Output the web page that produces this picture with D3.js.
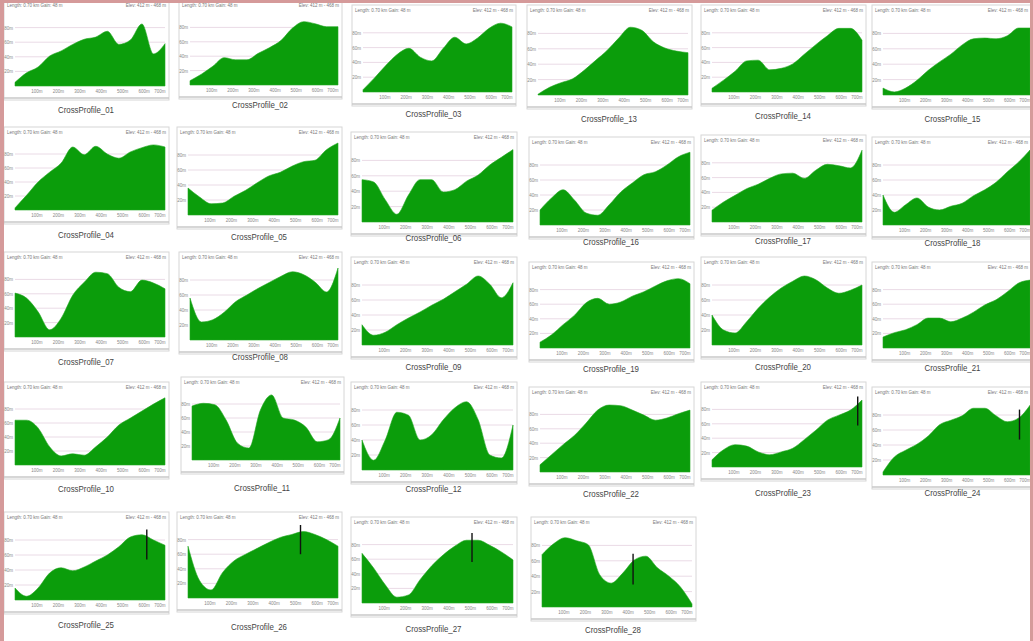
<!DOCTYPE html>
<html>
<head>
<meta charset="utf-8">
<script src="https://cdn.jsdelivr.net/npm/d3@7"></script>
<style>
  body { margin: 0; background: #fff; }
  svg { display: block; font-family: "Liberation Sans", Arial, sans-serif; }
</style>
</head>
<body>
<svg id="chart" width="1033" height="641"></svg>
<script>
// panel names, in the order they appear (row by row)
const names = [
  'CrossProfile_01', 'CrossProfile_02', 'CrossProfile_03', 'CrossProfile_13', 'CrossProfile_14', 'CrossProfile_15',
  'CrossProfile_04', 'CrossProfile_05', 'CrossProfile_06', 'CrossProfile_16', 'CrossProfile_17', 'CrossProfile_18',
  'CrossProfile_07', 'CrossProfile_08', 'CrossProfile_09', 'CrossProfile_19', 'CrossProfile_20', 'CrossProfile_21',
  'CrossProfile_10', 'CrossProfile_11', 'CrossProfile_12', 'CrossProfile_22', 'CrossProfile_23', 'CrossProfile_24',
  'CrossProfile_25', 'CrossProfile_26', 'CrossProfile_27', 'CrossProfile_28'
];

// relative elevation (0-100) at evenly spaced stations along each profile
const cp01 = [5, 18, 26, 41, 48, 57, 64, 67, 75, 57, 63, 85, 44, 58];
const cp02 = [6, 15, 26, 38, 35, 35, 44, 52, 62, 79, 88, 85, 81, 81];
const cp03 = [3, 19, 36, 51, 59, 47, 42, 59, 74, 65, 73, 86, 93, 88];
const cp13 = [1, 10, 16, 21, 32, 45, 58, 74, 88, 84, 69, 61, 57, 55];
const cp14 = [5, 16, 28, 42, 43, 30, 32, 38, 51, 64, 76, 86, 86, 70];
const cp15 = [9, 4, 9, 19, 32, 43, 53, 65, 73, 74, 73, 77, 87, 87];
const cp04 = [3, 21, 40, 54, 67, 90, 79, 91, 80, 74, 83, 89, 93, 90];
const cp05 = [36, 24, 15, 16, 25, 33, 43, 52, 57, 65, 71, 73, 87, 96];
const cp06 = [55, 52, 29, 10, 35, 55, 55, 39, 42, 53, 61, 74, 84, 94];
const cp16 = [20, 36, 47, 33, 16, 13, 27, 44, 56, 67, 71, 80, 91, 97];
const cp17 = [16, 27, 36, 45, 51, 59, 65, 66, 59, 70, 78, 76, 73, 97];
const cp18 = [40, 17, 27, 36, 24, 20, 25, 29, 39, 47, 57, 71, 84, 100];
const cp07 = [61, 54, 35, 10, 26, 58, 76, 90, 88, 69, 63, 79, 75, 67];
const cp08 = [56, 24, 27, 37, 51, 60, 69, 77, 85, 91, 87, 77, 64, 96];
const cp09 = [27, 13, 17, 27, 36, 44, 53, 61, 71, 81, 92, 81, 63, 83];
const cp19 = [8, 18, 32, 45, 62, 68, 60, 63, 71, 77, 85, 92, 95, 88];
const cp20 = [40, 20, 16, 31, 49, 64, 76, 85, 92, 87, 76, 69, 73, 80];
const cp21 = [15, 21, 25, 32, 41, 41, 36, 41, 49, 59, 66, 77, 89, 93];
const cp10 = [64, 64, 53, 26, 13, 16, 14, 26, 40, 57, 67, 77, 87, 96];
const cp11 = [77, 81, 79, 57, 24, 17, 71, 93, 60, 57, 47, 26, 29, 60];
const cp12 = [40, 13, 40, 77, 73, 40, 47, 67, 83, 91, 67, 20, 16, 60];
const cp22 = [10, 24, 38, 51, 68, 86, 93, 92, 86, 79, 72, 75, 81, 86];
const cp23 = [10, 24, 31, 29, 21, 17, 21, 26, 38, 51, 65, 72, 79, 93];
const cp24 = [4, 24, 33, 41, 52, 67, 73, 79, 89, 89, 79, 71, 76, 93];
const cp25 = [16, 5, 16, 36, 43, 39, 44, 52, 60, 71, 84, 87, 80, 73];
const cp26 = [71, 24, 11, 35, 51, 60, 68, 76, 83, 87, 91, 87, 80, 71];
const cp27 = [68, 48, 25, 8, 11, 32, 51, 66, 78, 86, 86, 79, 70, 59];
const cp28 = [68, 82, 90, 86, 81, 42, 31, 44, 61, 66, 51, 40, 26, 4];

const profiles = [
  cp01, cp02, cp03, cp13, cp14, cp15,
  cp04, cp05, cp06, cp16, cp17, cp18,
  cp07, cp08, cp09, cp19, cp20, cp21,
  cp10, cp11, cp12, cp22, cp23, cp24,
  cp25, cp26, cp27, cp28
];

// station marker along the profile (distance, m)
const markerNames = ['CrossProfile_23', 'CrossProfile_24', 'CrossProfile_25', 'CrossProfile_26', 'CrossProfile_27', 'CrossProfile_28'];
const markerDist = [680, 650, 615, 525, 510, 425];

const distTicks = [100, 200, 300, 400, 500, 600, 700];
const elevTicks = [20, 40, 60, 80];

// plot box of each panel in the collage: [left, right, top, baseline, caption y]
const boxes = [
  [15, 165, 13, 86, 113], [190, 338, 13, 85, 108], [363, 512, 18, 92, 117], [538, 688, 18, 95, 122], [712, 862, 18, 92, 119], [883, 1030, 18, 95, 122],
  [15, 165, 140, 210, 238], [188, 338, 140, 215, 240], [362, 513, 145, 222, 241], [540, 690, 150, 225, 245], [712, 862, 148, 222, 244], [883, 1030, 150, 225, 246],
  [15, 165, 265, 337, 365], [190, 338, 265, 340, 360], [362, 513, 270, 345, 370], [540, 690, 275, 348, 372], [712, 862, 270, 345, 370], [883, 1030, 275, 348, 371],
  [15, 165, 395, 465, 492], [192, 340, 390, 460, 491], [362, 513, 395, 470, 492], [540, 690, 400, 472, 497], [712, 862, 395, 467, 496], [883, 1030, 400, 475, 496],
  [15, 165, 525, 600, 628], [188, 338, 525, 598, 630], [362, 513, 530, 603, 632], [542, 692, 530, 607, 633]
];

const svg = d3.select('#chart');

function panel(values, name, box) {
    const [L, R, T, B, cy] = box;
    const x = d3.scaleLinear().domain([0, 700]).range([L, R]);
    const y = d3.scaleLinear().domain([0, 100]).range([B, T]);
    const pts = values.map((v, i) => ({ d: i * 700 / (values.length - 1), v: v }));
    const g = svg.append('g');
    const rightEdge = Math.min(R + 1, 1028);

    // chart frame
    g.append('rect')
        .attr('x', L - 11).attr('y', T - 13)
        .attr('width', R - L + 15).attr('height', B - T + 27)
        .attr('fill', '#fff').attr('stroke', '#d6d6d6');
    g.append('line')
        .attr('x1', L - 11).attr('x2', R + 4)
        .attr('y1', B + 12).attr('y2', B + 12)
        .attr('stroke', '#c8c8c8').attr('stroke-width', 1.5);

    g.selectAll('line.grid')
        .data(elevTicks)
        .enter()
        .append('line')
            .attr('class', 'grid')
            .attr('x1', L).attr('x2', R)
            .attr('y1', d => y(d)).attr('y2', d => y(d))
            .attr('stroke', '#eadbe6');

    const area = d3.area()
        .x(d => x(d.d))
        .y0(y(0))
        .y1(d => y(d.v))
        .curve(d3.curveMonotoneX);
    g.append('path')
        .datum(pts)
        .attr('d', area)
        .attr('fill', '#0b9d0b')
        .attr('stroke', '#22a822')
        .attr('stroke-width', 0.6);

    g.selectAll('text.ylab')
        .data(elevTicks)
        .enter()
        .append('text')
            .attr('class', 'ylab')
            .attr('x', L - 2).attr('y', d => y(d) + 2)
            .attr('text-anchor', 'end')
            .attr('font-size', 4.5).attr('fill', '#888')
            .text(d => `${d}m`);

    g.append('g')
        .attr('transform', `translate(0,${B + 1})`)
        .call(d3.axisBottom(x).tickValues(distTicks).tickSize(0).tickFormat(d => `${d}m`))
        .call(a => a.select('.domain').remove())
        .selectAll('text')
            .attr('font-size', 4.5).attr('fill', '#888')
            .attr('text-anchor', d => d === 700 ? 'end' : 'middle');

    g.append('text')
        .attr('x', L - 8).attr('y', T - 6)
        .attr('font-size', 4.5).attr('fill', '#777')
        .text('Length: 0.70 km  Gain: 48 m');
    g.append('text')
        .attr('x', rightEdge).attr('y', T - 6)
        .attr('text-anchor', 'end')
        .attr('font-size', 4.5).attr('fill', '#777')
        .text('Elev: 412 m - 468 m');

    const mi = markerNames.indexOf(name);
    if (mi >= 0) {
        const md = markerDist[mi];
        const k = md / 700 * (values.length - 1);
        const i0 = Math.floor(k), t = k - i0;
        const mv = values[i0] * (1 - t) + values[Math.min(i0 + 1, values.length - 1)] * t;
        g.append('line')
            .attr('x1', x(md)).attr('x2', x(md))
            .attr('y1', y(Math.min(mv + 10, 100))).attr('y2', y(mv - 30))
            .attr('stroke', '#111').attr('stroke-width', 1.4);
    }

    svg.append('text')
        .attr('x', (L + R) / 2 - 4).attr('y', cy)
        .attr('text-anchor', 'middle')
        .attr('font-size', 9).attr('fill', '#444')
        .attr('textLength', 56).attr('lengthAdjust', 'spacingAndGlyphs')
        .text(name);
}

profiles.forEach((p, i) => panel(p, names[i], boxes[i]));

// pink border of the collage
svg.append('rect').attr('x', 0).attr('y', 0).attr('width', 1033).attr('height', 3).attr('fill', '#d59a9a');
svg.append('rect').attr('x', 0).attr('y', 0).attr('width', 4).attr('height', 641).attr('fill', '#d59a9a');
svg.append('rect').attr('x', 1030).attr('y', 0).attr('width', 3).attr('height', 641).attr('fill', '#d59a9a');
</script>
</body>
</html>
